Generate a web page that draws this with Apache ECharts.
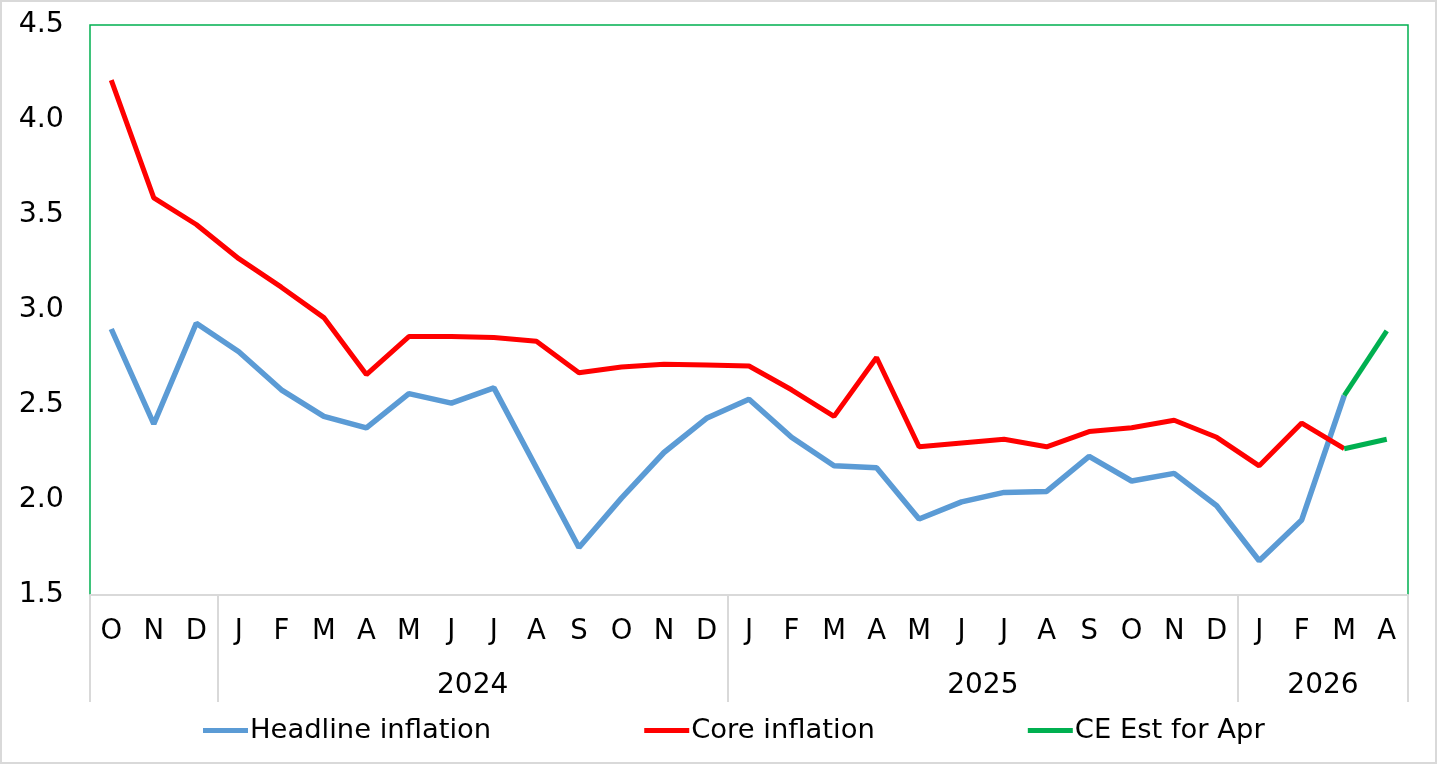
<!DOCTYPE html>
<html>
<head>
<meta charset="utf-8">
<script src="https://cdn.jsdelivr.net/npm/echarts@6/dist/echarts.min.js"></script>
<style>
html,body{margin:0;padding:0;background:#fff;}
#c{width:1437px;height:764px;box-sizing:border-box;border:2px solid #d9d9d9;}
</style>
</head>
<body>
<div id="c"></div>
<script>
const months = ['O','N','D','J','F','M','A','M','J','J','A','S','O','N','D','J','F','M','A','M','J','J','A','S','O','N','D','J','F','M','A'];
const yearLabels = ['2024','2025','2026'];
const yearCenters = [9, 21, 29];
const yearBounds = [0, 3, 15, 27, 31];
const yTicks = [1.5, 4.5, 0.5];

const headline = [2.90,2.40,2.93,2.78,2.58,2.44,2.38,2.56,2.51,2.59,2.17,1.75,2.01,2.25,2.43,2.53,2.33,2.18,2.17,1.90,1.99,2.04,2.045,2.23,2.10,2.14,1.97,1.68,1.895,2.55,null];
const core = [4.21,3.59,3.45,3.27,3.12,2.96,2.66,2.86,2.86,2.855,2.835,2.67,2.70,2.715,2.71,2.705,2.58,2.44,2.75,2.28,2.30,2.32,2.28,2.36,2.38,2.42,2.33,2.18,2.405,2.27,null];
const estHeadline = [2.55, 2.89];
const estCore = [2.27, 2.32];

function estSeries(pair){
  const arr = months.map(()=>null);
  arr[29] = pair[0]; arr[30] = pair[1];
  return arr;
}

const font = 'DejaVu Sans';
const chart = echarts.init(document.getElementById('c'));
chart.setOption({
  animation:false,
  textStyle:{fontFamily:font},
  grid:{left:88,right:27,top:23,bottom:167,show:true,borderColor:'#00b050',borderWidth:1.5,containLabel:false},
  legend:{
    left:196, top:710, itemGap:153, itemWidth:45, itemHeight:5, icon:'rect',
    textStyle:{fontFamily:font,fontSize:27.4,color:'#000',padding:[0,0,0,-3]},
    data:['Headline inflation','Core inflation','CE Est for Apr']
  },
  xAxis:[
    {type:'category',data:months,boundaryGap:true,
     axisLine:{show:true,lineStyle:{color:'#d9d9d9',width:2}},
     axisTick:{show:false},
     axisLabel:{color:'#000',fontSize:27.5,margin:23,interval:0,fontFamily:font},
     splitLine:{show:false}},
    {type:'value',min:0,max:31,position:'bottom',
     axisLine:{show:false},
     axisTick:{show:true,customValues:yearBounds,length:107,lineStyle:{color:'#d9d9d9',width:2}},
     axisLabel:{show:true,customValues:yearCenters,margin:77,color:'#000',fontSize:28,fontFamily:font,
       formatter:function(v){const i=yearCenters.indexOf(Math.round(v));return i>=0?yearLabels[i]:'';}},
     splitLine:{show:false}}
  ],
  yAxis:{type:'value',min:yTicks[0],max:yTicks[1],interval:yTicks[2],
    axisLine:{show:false},axisTick:{show:false},splitLine:{show:false},
    axisLabel:{color:'#000',fontSize:28.5,margin:26,fontFamily:font,formatter:v=>v.toFixed(1)}},
  series:[
    {name:'Headline inflation',type:'line',data:headline,symbol:'none',lineStyle:{color:'#5b9bd5',width:5.5},itemStyle:{color:'#5b9bd5'}},
    {name:'Core inflation',type:'line',data:core,symbol:'none',lineStyle:{color:'#ff0000',width:5},itemStyle:{color:'#ff0000'}},
    {name:'CE Est for Apr',type:'line',data:estSeries(estHeadline),symbol:'none',lineStyle:{color:'#00b050',width:5},itemStyle:{color:'#00b050'}},
    {name:'CE Est for Apr',type:'line',data:estSeries(estCore),symbol:'none',lineStyle:{color:'#00b050',width:5},itemStyle:{color:'#00b050'}}
  ]
});
</script>
</body>
</html>
